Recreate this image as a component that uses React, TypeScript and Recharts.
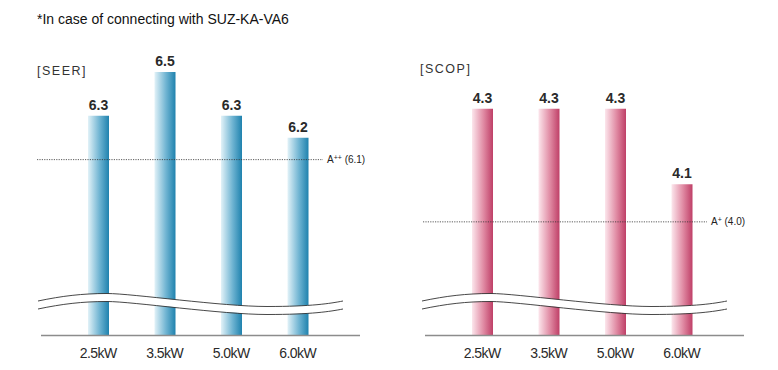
import { BarChart, Bar, XAxis, YAxis, ReferenceLine, LabelList } from 'recharts';

const capacities = ['2.5kW', '3.5kW', '5.0kW', '6.0kW'];
const seerValues = [6.3, 6.5, 6.3, 6.2];
const scopValues = [4.3, 4.3, 4.3, 4.1];
const seerThreshold = 6.1;
const scopThreshold = 4.0;
const seerThresholdLabel = ['A', '++', ' (6.1)'];
const scopThresholdLabel = ['A', '+', ' (4.0)'];
// the value axis is broken, so it starts above zero
const seerDomain: [number, number] = [5.3, 6.6];
const scopDomain: [number, number] = [3.7, 4.4];

const seerData = capacities.map((name, i) => ({ name, value: seerValues[i] }));
const scopData = capacities.map((name, i) => ({ name, value: scopValues[i] }));

const FONT = '"Liberation Sans", Arial, Helvetica, sans-serif';
const PLOT_W = 319;
const PLOT_BOTTOM = 335;

// axis-break mark and baseline, laid over the bars
function BreakWave({ dx, x0 }: { dx: number; x0: number }) {
    const d = `M ${38 + dx} 305 C ${62 + dx} 300, ${82 + dx} 297.5, ${107 + dx} 297.5 S ${222 + dx} 310.5, ${267 + dx} 310.5 S ${330 + dx} 307.5, ${343 + dx} 305`;
    return (
        <svg width={388} height={340} style={{ position: 'absolute', left: 0, top: 0, pointerEvents: 'none' }}>
            <path d={d} fill="none" stroke="#ffffff" strokeWidth={7.5} />
            <path d={d} fill="none" stroke="#333" strokeWidth={0.9} transform="translate(0,-4)" />
            <path d={d} fill="none" stroke="#333" strokeWidth={0.9} transform="translate(0,4)" />
            <line x1={x0} y1={PLOT_BOTTOM + 0.5} x2={x0 + PLOT_W} y2={PLOT_BOTTOM + 0.5} stroke="#8c8c8c" strokeWidth={1.5} />
        </svg>
    );
}

function thresholdShape(parts: string[], left: number, right: number) {
    return (props: any) => {
        const { x1, y1 } = props;
        return (
            <g>
                <line x1={x1 - left} y1={y1} x2={x1 + right} y2={y1} stroke="#333" strokeWidth={0.8} strokeDasharray="1.2 1.2" />
                <text x={x1 + right + 4} y={y1 + 3.5} fontSize={10} fill="#222" fontFamily={FONT}>
                    {parts[0]}
                    <tspan fontSize={7} dy={-3}>{parts[1]}</tspan>
                    <tspan dy={3}>{parts[2]}</tspan>
                </text>
            </g>
        );
    };
}

interface PanelProps {
    data: { name: string; value: number }[];
    domain: [number, number];
    threshold: number;
    thresholdParts: string[];
    gradientId: string;
    light: string;
    mid: string;
    dark: string;
    top: number;
    left: number;
    marginLeft: number;
    waveDx: number;
    lineLeft: number;
    lineRight: number;
}

function Panel(p: PanelProps) {
    return (
        <div style={{ position: 'absolute', left: p.left, top: 0, width: 388, height: 370 }}>
            <BarChart width={388} height={370} data={p.data} margin={{ top: p.top, right: 388 - p.marginLeft - PLOT_W, bottom: 0, left: p.marginLeft }} barSize={21}>
                <defs>
                    <linearGradient id={p.gradientId} x1="0" y1="0" x2="1" y2="0">
                        <stop offset="0%" stopColor={p.light} />
                        <stop offset="55%" stopColor={p.mid} />
                        <stop offset="100%" stopColor={p.dark} />
                    </linearGradient>
                </defs>
                <XAxis
                    dataKey="name"
                    height={35}
                    padding={{ left: 24, right: 29 }}
                    axisLine={false}
                    tickLine={false}
                    tickMargin={7}
                    tick={{ fill: '#2a2a2a', fontSize: 14, fontFamily: FONT, letterSpacing: -0.5 }}
                />
                <YAxis hide domain={p.domain} allowDataOverflow />
                <Bar dataKey="value" fill={`url(#${p.gradientId})`} isAnimationActive={false}>
                    <LabelList dataKey="value" position="top" offset={6} fill="#2a2a2a" fontSize={14} fontWeight="bold" fontFamily={FONT} formatter={(v: any) => Number(v).toFixed(1)} />
                </Bar>
                <ReferenceLine y={p.threshold} shape={thresholdShape(p.thresholdParts, p.lineLeft, p.lineRight)} />
            </BarChart>
            <BreakWave dx={p.waveDx} x0={p.marginLeft} />
        </div>
    );
}

export default function App() {
    return (
        <div style={{ position: 'absolute', left: 0, top: 0, width: 778, height: 370, background: '#fff', fontFamily: FONT, overflow: 'hidden' }}>
            <Panel data={seerData} domain={seerDomain} threshold={seerThreshold} thresholdParts={seerThresholdLabel}
                gradientId="seerGrad" light="#e2f2f8" mid="#6fb4d2" dark="#1f82ae"
                top={50} left={0} marginLeft={41} waveDx={0} lineLeft={4} lineRight={282} />
            <Panel data={scopData} domain={scopDomain} threshold={scopThreshold} thresholdParts={scopThresholdLabel}
                gradientId="scopGrad" light="#fce6ec" mid="#e08aa3" dark="#bf3f67"
                top={71} left={390} marginLeft={35} waveDx={-6} lineLeft={2} lineRight={282} />
            <div style={{ position: 'absolute', left: 37, top: 11, fontSize: 14, color: '#111', whiteSpace: 'nowrap' }}>
                *In case of connecting with SUZ-KA-VA6
            </div>
            <div style={{ position: 'absolute', left: 37, top: 64, fontSize: 12.5, letterSpacing: 1.5, color: '#333' }}>[SEER]</div>
            <div style={{ position: 'absolute', left: 420, top: 62, fontSize: 12.5, letterSpacing: 1.5, color: '#333' }}>[SCOP]</div>
        </div>
    );
}
